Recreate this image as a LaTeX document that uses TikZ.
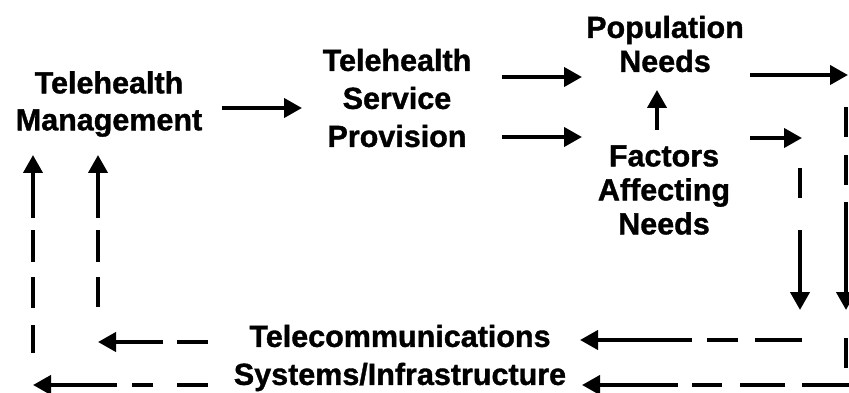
\documentclass[tikz,border=0pt]{standalone}
\usepackage{fontspec}
\setmainfont{Liberation Sans}[BoldFeatures={FakeBold=1.2}]
\usetikzlibrary{arrows.meta}
\tikzset{
  lbl/.style={align=center, inner sep=0pt, font=\fontsize{30.5pt}{#1}\selectfont\bfseries},
  arr/.style={line width=4pt, -{Triangle[length=18pt,width=19pt]}},
}
\begin{document}
\begin{tikzpicture}[x=1pt,y=-1pt]
\useasboundingbox (0,0) rectangle (849,393);
% nodes
\node[lbl=37pt] (tm) at (109,104) {Telehealth\\Management};
\node[lbl=38pt] (tsp) at (397,98) {Telehealth\\Service\\Provision};
\node[lbl=34pt] (pn) at (665,44) {Population\\Needs};
\node[lbl=34pt] (fan) at (664,190) {Factors\\Affecting\\Needs};
\node[lbl=38pt] (tel) at (400,358) {Telecommunications\\Systems/Infrastructure};
% coordinates
\coordinate (a1s) at (222,108); \coordinate (a1e) at (302,108);
\coordinate (a2s) at (502,77);  \coordinate (a2e) at (582,77);
\coordinate (a3s) at (502,137); \coordinate (a3e) at (582,137);
\coordinate (a4s) at (657,130); \coordinate (a4e) at (657,90);
\coordinate (a5s) at (750,75);  \coordinate (a5e) at (848,75);
\coordinate (a6s) at (750,138); \coordinate (a6e) at (802,138);
\coordinate (v1s) at (800,168); \coordinate (v1e) at (800,310);
\coordinate (v2s) at (846,107); \coordinate (v2e) at (846,310);
\coordinate (v3s) at (846,338); \coordinate (v3e) at (846,368);
\coordinate (h1s) at (802,340); \coordinate (h1e) at (580,340);
\coordinate (h2s) at (849,385); \coordinate (h2e) at (582,385);
\coordinate (h3s) at (208,342); \coordinate (h3e) at (98,342);
\coordinate (h4s) at (208,385); \coordinate (h4e) at (33,385);
\coordinate (l1s) at (33,353);  \coordinate (l1e) at (33,155);
\coordinate (l2s) at (98,307);  \coordinate (l2e) at (98,155);
% solid arrows
\draw[arr] (a1s) -- (a1e);
\draw[arr] (a2s) -- (a2e);
\draw[arr] (a3s) -- (a3e);
\draw[arr] (a4s) -- (a4e);
\draw[arr] (a5s) -- (a5e);
\draw[arr] (a6s) -- (a6e);
% dashed-then-solid arrows
\draw[arr, dash pattern=on 30pt off 32pt on 1000pt] (v1s) -- (v1e);
\draw[arr, dash pattern=on 30pt off 18pt on 30pt off 17pt on 1000pt] (v2s) -- (v2e);
\draw[line width=3.5pt] (v3s) -- (v3e);
\draw[arr, dash pattern=on 47pt off 17pt on 31pt off 15pt on 1000pt] (h1s) -- (h1e);
\draw[arr, dash pattern=on 47pt off 17pt on 45pt off 18pt on 30pt off 14pt on 1000pt] (h2s) -- (h2e);
\draw[arr, dash pattern=on 31pt off 14pt on 1000pt] (h3s) -- (h3e);
\draw[arr, dash pattern=on 31pt off 24pt on 21pt off 15pt on 1000pt] (h4s) -- (h4e);
\draw[arr, dash pattern=on 28pt off 17pt on 31pt off 15pt on 32pt off 12pt on 1000pt] (l1s) -- (l1e);
\draw[arr, dash pattern=on 30pt off 15pt on 32pt off 12pt on 1000pt] (l2s) -- (l2e);
\end{tikzpicture}
\end{document}
